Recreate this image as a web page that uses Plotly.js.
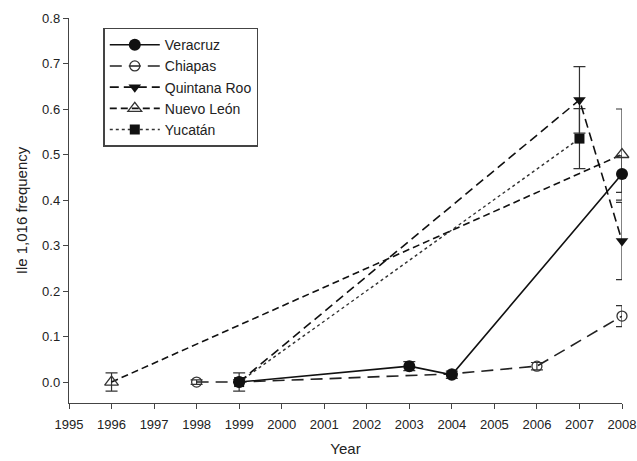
<!DOCTYPE html>
<html>
<head>
<meta charset="utf-8">
<script src="https://cdn.plot.ly/plotly-3.0.1.min.js"></script>
<style>html,body{margin:0;padding:0;background:#fff;}#chart{width:637px;height:461px;}</style>
</head>
<body>
<div id="chart"></div>
<script>
// Data
const veracruzYears = [1999, 2003, 2004, 2008];
const veracruzFreq  = [0.0, 0.035, 0.016, 0.457];
const veracruzErr   = [0.02, 0.01, 0.008, 0.04];

const chiapasYears = [1998, 1999, 2004, 2006, 2008];
const chiapasFreq  = [0.0, 0.0, 0.018, 0.035, 0.145];
const chiapasErr   = [0.005, 0.0, 0.0, 0.008, 0.023];

const quintanaYears = [1999, 2007, 2008];
const quintanaFreq  = [0.0, 0.62, 0.31];
const quintanaErr   = [0.0, 0.073, 0.085];

const nuevoYears = [1996, 2008];
const nuevoFreq  = [0.0, 0.50];
const nuevoErr   = [0.02, 0.10];

const yucatanYears = [1999, 2007];
const yucatanFreq  = [0.0, 0.535];
const yucatanErr   = [0.0, 0.066];

const yTicks = [0, 0.1, 0.2, 0.3, 0.4, 0.5, 0.6, 0.7, 0.8];
const xTicks = [1995,1996,1997,1998,1999,2000,2001,2002,2003,2004,2005,2006,2007,2008];

function err(a){ return {type:'data', array:a, visible:true, color:'#333', thickness:1.2, width:6}; }

const traces = [
  {name:'Chiapas', legendrank:2, x:chiapasYears, y:chiapasFreq, error_y:err(chiapasErr), mode:'lines+markers', cliponaxis:false,
   line:{color:'#222', width:1.6, dash:'12px,7px'}, marker:{symbol:'circle-open', size:10, color:'#333', line:{width:1.3}}},
  {name:'Nuevo León', legendrank:4, x:nuevoYears, y:nuevoFreq, error_y:err(nuevoErr), mode:'lines+markers', cliponaxis:false,
   line:{color:'#111', width:1.6, dash:'7px,4px'}, marker:{symbol:'triangle-up-open', size:12, color:'#333', line:{width:1.3}}},
  {name:'Yucatán', legendrank:5, x:yucatanYears, y:yucatanFreq, error_y:err(yucatanErr), mode:'lines+markers', cliponaxis:false,
   line:{color:'#333', width:1.4, dash:'dot'}, marker:{symbol:'square', size:10, color:'#111'}},
  {name:'Quintana Roo', legendrank:3, x:quintanaYears, y:quintanaFreq, error_y:err(quintanaErr), mode:'lines+markers', cliponaxis:false,
   line:{color:'#111', width:1.6, dash:'9px,5px'}, marker:{symbol:'triangle-down', size:11, color:'#111'}},
  {name:'Veracruz', legendrank:1, x:veracruzYears, y:veracruzFreq, error_y:err(veracruzErr), mode:'lines+markers', cliponaxis:false,
   line:{color:'#111', width:1.6, dash:'solid'}, marker:{symbol:'circle', size:12, color:'#111'}}
];

const layout = {
  width:637, height:461,
  margin:{l:69, r:15, t:18, b:58},
  paper_bgcolor:'#fff', plot_bgcolor:'#fff',
  font:{family:'Liberation Sans, Arial, sans-serif', color:'#222', size:13},
  showlegend:true,
  legend:{x:0.062, y:0.975, xanchor:'left', yanchor:'top', bgcolor:'#fff', traceorder:'normal',
          bordercolor:'#444', borderwidth:1.5, font:{size:14, color:'#222'},
          tracegroupgap:0, itemwidth:50},
  xaxis:{range:[1995, 2008], tickvals:xTicks, ticktext:xTicks.map(String),
         showline:true, linecolor:'#444', linewidth:1.2, ticks:'outside', ticklen:5, tickcolor:'#444',
         showgrid:false, zeroline:false, tickfont:{size:13, color:'#222'}, ticklabelstandoff:4,
         title:{text:'Year', font:{size:15, color:'#222'}, standoff:12}},
  yaxis:{range:[-0.046, 0.8], tickvals:yTicks, ticktext:yTicks.map(v=>v.toFixed(1)),
         showline:true, linecolor:'#444', linewidth:1.2, ticks:'outside', ticklen:5, tickcolor:'#444',
         showgrid:false, zeroline:false, tickfont:{size:13, color:'#222'},
         title:{text:'Ile 1,016 frequency', font:{size:15, color:'#222'}, standoff:10}}
};

Plotly.newPlot('chart', traces, layout, {displayModeBar:false, staticPlot:true});
</script>
</body>
</html>
